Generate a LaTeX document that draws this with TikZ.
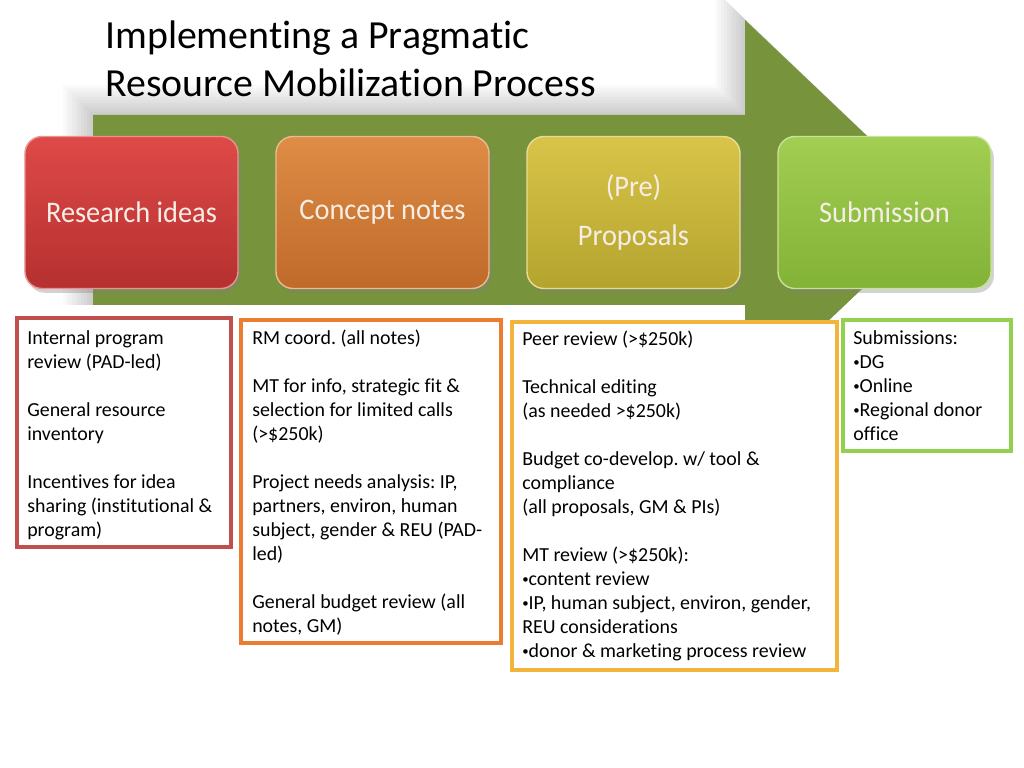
\documentclass[tikz,border=0pt]{standalone}
\usepackage{fontspec}
\setmainfont{Carlito}[Ligatures=NoCommon]
\newfontfamily\stagefont{Carlito}[Ligatures=NoCommon, FakeStretch=0.95]
\usetikzlibrary{shadows}

\definecolor{arrowgreen}{HTML}{77933C}
\definecolor{redtop}{HTML}{DE4A48}
\definecolor{redbot}{HTML}{B5302F}
\definecolor{orangetop}{HTML}{DE8C46}
\definecolor{orangebot}{HTML}{C06A2A}
\definecolor{yellowtop}{HTML}{D8C448}
\definecolor{yellowbot}{HTML}{B4A42E}
\definecolor{greentop}{HTML}{A2CE52}
\definecolor{greenbot}{HTML}{82B236}
\definecolor{stagetext}{HTML}{F6EEE6}
\definecolor{lineRed}{HTML}{C0504D}
\definecolor{lineOrange}{HTML}{EC7C30}
\definecolor{lineGold}{HTML}{F2B43A}
\definecolor{lineGreen}{HTML}{92D050}

\newcommand{\gap}{\\[16.875pt]}
\newcommand{\bul}{{\fontsize{9}{10}\selectfont\raisebox{0.3ex}{•}}}

\tikzset{
    stagebox/.style={rectangle, rounded corners=12pt, minimum width=149.8pt,
        minimum height=106.9pt, inner sep=0pt, align=center, text=stagetext,
        font=\stagefont\fontsize{21}{35}\selectfont, line width=1pt,
        drop shadow={opacity=0.35, shadow xshift=2pt, shadow yshift=-3pt}},
    detailbox/.style={line width=2.2pt},
    detailtext/.style={anchor=north west, inner sep=0pt, align=left,
        font=\fontsize{14}{16.875}\selectfont}
}

\begin{document}
\frenchspacing
\begin{tikzpicture}[x=0.703125pt, y=-0.703125pt]
    % Page
    \fill[white] (0,0) rectangle (1024,768);
    \useasboundingbox (0,0) rectangle (1024,768);

    % Soft shadow of the arrow
    \foreach \d in {3,6,...,30} {
        \fill[black, opacity=0.018] (93-\d,115-\d) -- (745-\d,115-\d) -- (745-\d,20-\d)
            -- (945,210) -- (745,400) -- (745,305) -- (93-\d,305) -- cycle;
    }

    % Big process arrow
    \fill[arrowgreen] (93,115) -- (745,115) -- (745,20) -- (945,210)
        -- (745,400) -- (745,305) -- (93,305) -- cycle;

    % Title
    \node[anchor=north west, inner sep=0pt, align=left,
        font=\fontsize{28}{33.6}\selectfont] (title) at (105,15)
        {\strut Implementing a Pragmatic\\Resource Mobilization Process};

    % Stage boxes
    \foreach \name/\xx/\topc/\botc/\lbl in {
        research/25/redtop/redbot/{Research ideas},
        concept/276/orangetop/orangebot/{Concept notes},
        pre/527/yellowtop/yellowbot/{(Pre)\\Proposals},
        submit/778/greentop/greenbot/{Submission}} {
        \node[stagebox, top color=\topc, bottom color=\botc, draw=\topc!60!white]
            (\name) at (\xx+106.5,212.5) {\lbl};
    }

    % Detail boxes
    \draw[detailbox, draw=lineRed, fill=white] (17,318) rectangle (231,547);
    \draw[detailbox, draw=lineOrange, fill=white] (241,320) rectangle (501,643);
    \draw[detailbox, draw=lineGold, fill=white] (512,322) rectangle (837,670);
    \draw[detailbox, draw=lineGreen, fill=white] (843,320) rectangle (1011,451);

    % Detail texts
    \node[detailtext] (ideasText) at (27,327) {\strut Internal program\\review (PAD-led)\gap
        General resource\\inventory\gap
        Incentives for idea\\sharing (institutional \&\\program)};
    \node[detailtext] (notesText) at (252,327) {\strut RM coord. (all notes)\gap
        MT for info, strategic fit \&\\selection for limited calls\\(>\$250k)\gap
        Project needs analysis: IP,\\partners, environ, human\\subject, gender \& REU (PAD-\\led)\gap
        General budget review (all\\notes, GM)};
    \node[detailtext] (propText) at (522,328) {\strut Peer review (>\$250k)\gap
        Technical editing\\(as needed >\$250k)\gap
        Budget co-develop. w/ tool \&\\compliance\\(all proposals, GM \& PIs)\gap
        MT review (>\$250k):\\\bul content review\\\bul IP, human subject, environ, gender,\\REU considerations\\\bul donor \& marketing process review};
    \node[detailtext] (submitText) at (853,327) {\strut Submissions:\\\bul DG\\\bul Online\\\bul Regional donor\\office};
\end{tikzpicture}
\end{document}
